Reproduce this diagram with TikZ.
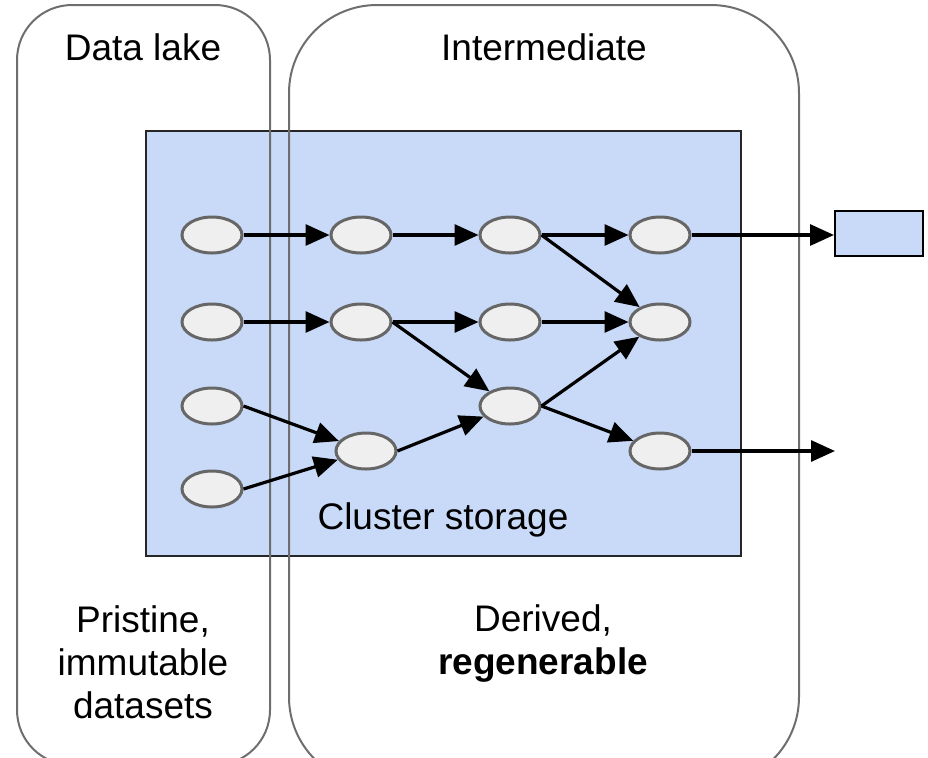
\documentclass[tikz,border=0pt]{standalone}
\usepackage{fontspec}
\setmainfont{Liberation Sans}
\usetikzlibrary{shapes.geometric,arrows.meta}
\definecolor{clusterblue}{HTML}{C9DAF8}
\definecolor{blobfill}{HTML}{EFEFEF}
\definecolor{blobedge}{HTML}{666666}
\definecolor{zoneedge}{HTML}{6E6E6E}
\begin{document}
\begin{tikzpicture}[x=0.5pt, y=-0.5pt, every node/.style={font=\fontsize{18.5}{21.5}\selectfont},
  zone/.style={draw=zoneedge,line width=1pt},
  blob/.style={ellipse,draw=blobedge,fill=blobfill,line width=1.5pt,minimum width=30pt,minimum height=18pt,inner sep=0pt},
  flow/.style={line width=1.6pt,-{Triangle[length=12pt,width=10.5pt]}}]
\clip (0,0) rectangle (928,757);
% cluster storage
\node[draw=black!85,fill=clusterblue,line width=1pt,minimum width=297.5pt,minimum height=212.5pt,inner sep=0pt] (cluster) at (443.5,343.5) {};
\node[anchor=base] (clusterT) at (443,529) {Cluster storage};
% zones
\draw[zone,rounded corners=27.5pt] (17,5) rectangle (270,765);
\draw[zone,rounded corners=44pt] (289,5) rectangle (799,785);
\node[anchor=base] (lakeT) at (143,60) {Data lake};
\node[anchor=base] (interT) at (544,60) {Intermediate};
\node[align=center] (lakeB) at (143,662) {Pristine,\\immutable\\datasets};
\node[align=center] (interB) at (543,644) {Derived,\\\textbf{regenerable}};
% datasets
\foreach \y [count=\i] in {235,322,406,489} {\node[blob] (a\i) at (212,\y) {};}
\node[blob] (b1) at (361,235) {};
\node[blob] (b2) at (361,322) {};
\node[blob] (b3) at (366,451) {};
\foreach \y [count=\i] in {235,322,406} {\node[blob] (c\i) at (510,\y) {};}
\foreach \y [count=\i] in {235,322,451} {\node[blob] (d\i) at (660,\y) {};}
\node[draw=black,fill=clusterblue,line width=1pt,minimum width=44pt,minimum height=22.5pt,inner sep=0pt] (out) at (879,233.5) {};
\coordinate (sink) at (835,451);
% flows
\foreach \s/\t in {a1/b1,b1/c1,c1/d1,c1/d2,a2/b2,b2/c2,c2/d2,b2/c3,a3/b3,a4/b3,b3/c3,c3/d2,c3/d3}
  \draw[flow] (\s.east) -- (\t);
\draw[flow] (d1.east) -- (d1.east -| out.west);
\draw[flow] (d3.east) -- (sink);
\end{tikzpicture}
\end{document}
